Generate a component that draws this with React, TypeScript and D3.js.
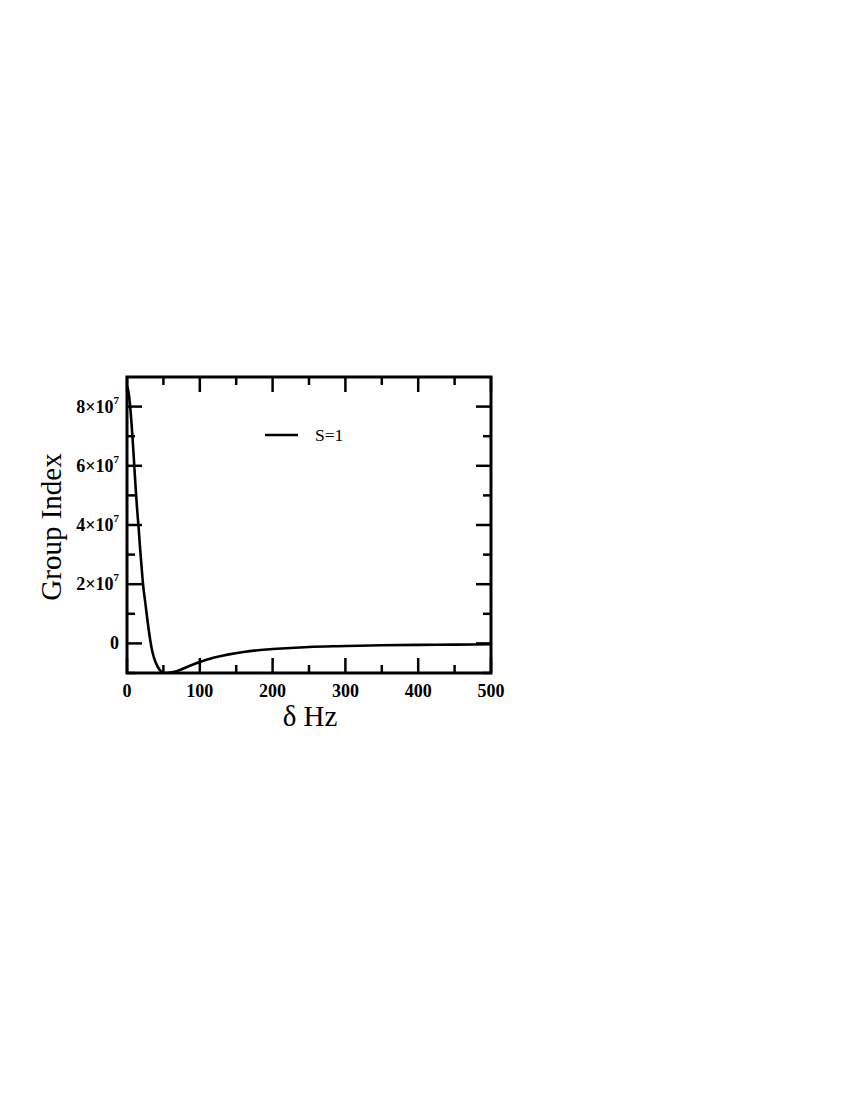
import React from "react";
import * as d3 from "d3";

const deltaHz = [0, 2, 4, 6, 8, 10, 12, 14, 16, 18, 20, 22, 25, 28, 32, 35, 40, 45, 50, 55, 60, 70, 80, 90, 100, 120, 140, 160, 180, 200, 250, 300, 350, 400, 450, 500];
const groupIndex = [8.7, 8.5, 8.1, 7.5, 6.8, 6.0, 5.2, 4.5, 3.9, 3.2, 2.6, 2.0, 1.4, 0.8, 0.1, -0.3, -0.68, -0.9, -0.99, -1.0, -0.98, -0.92, -0.82, -0.72, -0.63, -0.48, -0.37, -0.29, -0.23, -0.19, -0.12, -0.09, -0.06, -0.05, -0.04, -0.03].map((v) => v * 1e7);
const xMajorTicks = [0, 100, 200, 300, 400, 500];
const xMinorTicks = [50, 150, 250, 350, 450];
const yMajorTicks = [0, 2e7, 4e7, 6e7, 8e7];
const yMinorTicks = [-1e7, 1e7, 3e7, 5e7, 7e7];
const yTickMantissa = ["0", "2", "4", "6", "8"];
const seriesName = "S=1";

export default function App() {
  const left = 127, right = 491, top = 377, bottom = 673;
  const x = d3.scaleLinear().domain([0, 500]).range([left, right]);
  const y = d3.scaleLinear().domain([-1e7, 9e7]).range([bottom, top]);
  const line = d3
    .line<number>()
    .x((_, i) => x(deltaHz[i]))
    .y((d) => y(d))
    .curve(d3.curveMonotoneX);
  const font = "'Liberation Serif', 'Times New Roman', serif";
  const maj = 15, mnr = 8;
  return (
    <svg width={850} height={1100} style={{ position: "absolute", left: 0, top: 0 }}>
      <defs>
        <clipPath id="plotclip">
          <rect x={left} y={top - 2} width={right - left} height={bottom - top + 2} />
        </clipPath>
      </defs>
      <g stroke="#000" strokeWidth={2.5}>
        {xMajorTicks.map((t) => (
          <g key={"xm" + t}>
            <line x1={x(t)} x2={x(t)} y1={bottom} y2={bottom - maj} />
            <line x1={x(t)} x2={x(t)} y1={top} y2={top + maj} />
          </g>
        ))}
        {xMinorTicks.map((t) => (
          <g key={"xn" + t}>
            <line x1={x(t)} x2={x(t)} y1={bottom} y2={bottom - mnr} />
            <line x1={x(t)} x2={x(t)} y1={top} y2={top + mnr} />
          </g>
        ))}
        {yMajorTicks.map((t) => (
          <g key={"ym" + t}>
            <line x1={left} x2={left + maj} y1={y(t)} y2={y(t)} />
            <line x1={right} x2={right - maj} y1={y(t)} y2={y(t)} />
          </g>
        ))}
        {yMinorTicks.map((t) => (
          <g key={"yn" + t}>
            <line x1={left} x2={left + mnr} y1={y(t)} y2={y(t)} />
            <line x1={right} x2={right - mnr} y1={y(t)} y2={y(t)} />
          </g>
        ))}
      </g>
      <path
        d={line(groupIndex) || ""}
        fill="none"
        stroke="#000"
        strokeWidth={2.6}
        clipPath="url(#plotclip)"
      />
      <rect x={left} y={top} width={right - left} height={bottom - top} fill="none" stroke="#000" strokeWidth={3} />
      {xMajorTicks.map((t) => (
        <text key={"xl" + t} x={x(t)} y={697} textAnchor="middle" fontFamily={font} fontWeight="bold" fontSize={18}>
          {t}
        </text>
      ))}
      {yMajorTicks.map((t, i) => (
        <text key={"yl" + t} x={119} y={y(t) + 6} textAnchor="end" fontFamily={font} fontWeight="bold" fontSize={18}>
          {t === 0 ? (
            "0"
          ) : (
            <>
              {yTickMantissa[i]}×10
              <tspan fontSize={11} dy={-9}>7</tspan>
            </>
          )}
        </text>
      ))}
      <text
        transform={`translate(61,527) rotate(-90)`}
        textAnchor="middle"
        fontFamily={font}
        fontSize={29}
      >
        Group Index
      </text>
      <text x={310} y={726} textAnchor="middle" fontFamily={font} fontSize={29}>
        δ Hz
      </text>
      <line x1={265} x2={298} y1={435} y2={435} stroke="#000" strokeWidth={2.6} />
      <text x={315} y={441} fontFamily={font} fontSize={17.5}>
        {seriesName}
      </text>
    </svg>
  );
}
